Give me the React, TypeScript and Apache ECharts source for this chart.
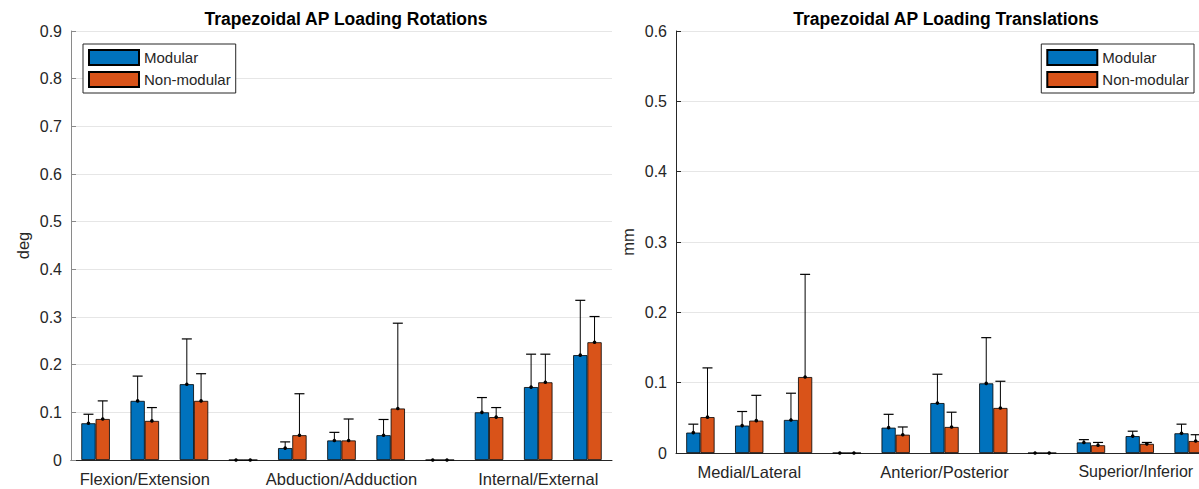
import React, { useEffect, useRef } from "react";
import * as echarts from "echarts";

const rotCategories = ["", "Flexion/Extension", "", "", "", "Abduction/Adduction", "", "", "", "Internal/External", ""];
const transCategories = ["", "Medial/Lateral", "", "", "", "Anterior/Posterior", "", "", "", "Superior/Inferior", ""];

const seriesNames = ["Modular", "Non-modular"];

const rotModular = [0.077, 0.124, 0.159, 0, 0.025, 0.041, 0.052, 0, 0.100, 0.153, 0.220];
const rotModularErr = [0.019, 0.052, 0.095, 0, 0.013, 0.017, 0.033, 0, 0.031, 0.069, 0.115];
const rotNonModular = [0.086, 0.082, 0.124, 0, 0.052, 0.041, 0.108, 0, 0.090, 0.163, 0.247];
const rotNonModularErr = [0.038, 0.028, 0.057, 0, 0.087, 0.045, 0.179, 0, 0.020, 0.059, 0.054];

const transModular = [0.029, 0.039, 0.047, 0, 0.036, 0.071, 0.099, 0, 0.015, 0.024, 0.028];
const transModularErr = [0.012, 0.020, 0.038, 0, 0.019, 0.041, 0.065, 0, 0.004, 0.007, 0.013];
const transNonModular = [0.051, 0.046, 0.108, 0, 0.026, 0.037, 0.064, 0, 0.011, 0.013, 0.017];
const transNonModularErr = [0.070, 0.036, 0.146, 0, 0.011, 0.021, 0.038, 0, 0.004, 0.002, 0.009];

const BLUE = "#0072BD";
const ORANGE = "#D95319";
const TXT = "#262626";
const FONT = "'Liberation Sans', Arial, Helvetica, sans-serif";
const BAR_FRAC = 0.29;

function errSeries(name: string, means: number[], errs: number[], side: number, gi: number) {
  return {
    type: "custom",
    name,
    xAxisIndex: gi,
    yAxisIndex: gi,
    z: 5,
    clip: false,
    data: means.map((m, i) => [i, m, errs[i]]),
    encode: { x: 0, y: [1, 2] },
    renderItem: (params: any, api: any) => {
      const idx = api.value(0);
      const mean = api.value(1);
      const err = api.value(2);
      const base = api.coord([idx, mean]);
      const top = api.coord([idx, mean + err]);
      const bandW = api.size([1, 0])[0];
      const x = base[0] + (side * bandW * BAR_FRAC) / 2;
      const children: any[] = [];
      if (err > 0) {
        children.push({
          type: "line",
          shape: { x1: x, y1: base[1], x2: x, y2: top[1] },
          style: { stroke: "#000", lineWidth: 1 },
        });
        children.push({
          type: "line",
          shape: { x1: x - 5, y1: top[1], x2: x + 5, y2: top[1] },
          style: { stroke: "#000", lineWidth: 1.2 },
        });
      }
      children.push({
        type: "circle",
        shape: { cx: x, cy: base[1], r: 1.8 },
        style: { fill: "#000" },
      });
      return { type: "group", children };
    },
  };
}

function barSeries(name: string, data: number[], color: string, gi: number) {
  return {
    type: "bar",
    name,
    xAxisIndex: gi,
    yAxisIndex: gi,
    data,
    barWidth: BAR_FRAC * 100 + "%",
    barGap: "0%",
    itemStyle: { color, borderColor: "#000", borderWidth: 0.8 },
  };
}

function yAxis(gi: number, max: number, name: string, lineColor: string) {
  return {
    type: "value",
    gridIndex: gi,
    min: 0,
    max,
    interval: 0.1,
    name,
    nameLocation: "middle",
    nameGap: 40,
    nameTextStyle: { color: TXT, fontSize: 16.5, fontFamily: FONT },
    axisLine: { show: true, lineStyle: { color: lineColor, width: 1 } },
    axisTick: { show: true, inside: true, length: 5, lineStyle: { color: lineColor } },
    axisLabel: {
      color: TXT,
      fontSize: 16,
      fontFamily: FONT,
      margin: 9,
      formatter: (v: number) => (v === 0 ? "0" : v.toFixed(1)),
    },
    splitLine: { show: true, lineStyle: { color: "#e6e6e6", width: 1 } },
  };
}

function xAxis(gi: number, cats: any[]) {
  return {
    type: "category",
    gridIndex: gi,
    data: cats,
    boundaryGap: true,
    axisLine: { show: true, lineStyle: { color: "#262626", width: 1 } },
    axisTick: { show: false },
    axisLabel: { color: TXT, fontSize: 16.5, fontFamily: FONT, margin: 10, interval: 0 },
    splitLine: { show: false },
  };
}

function legend(pos: any) {
  return {
    ...pos,
    top: 44,
    orient: "vertical",
    data: seriesNames,
    itemWidth: 50,
    itemHeight: 15,
    itemGap: 5,
    padding: [5, 5, 5, 5],
    borderColor: "#262626",
    borderWidth: 1,
    borderRadius: 0,
    backgroundColor: "#fff",
    selectedMode: false,
    icon: "rect",
    textStyle: { color: TXT, fontSize: 15, fontFamily: FONT },
  };
}

export default function App() {
  const ref = useRef<HTMLDivElement>(null);
  useEffect(() => {
    if (!ref.current) return;
    const chart = echarts.init(ref.current, null, { renderer: "svg" });
    const transAxisData = transCategories.map((c, i) =>
      i === transCategories.length - 2
        ? { value: c, textStyle: { fontSize: 16, padding: [0, 8, 0, 0] } }
        : c
    );
    chart.setOption({
      animation: false,
      backgroundColor: "#fff",
      title: [
        {
          text: "Trapezoidal AP Loading Rotations",
          left: 341,
          top: 5,
          textAlign: "center",
          textStyle: { color: "#000", fontSize: 17.5, fontWeight: "bold", fontFamily: FONT },
        },
        {
          text: "Trapezoidal AP Loading Translations",
          left: 941,
          top: 5,
          textAlign: "center",
          textStyle: { color: "#000", fontSize: 17.5, fontWeight: "bold", fontFamily: FONT },
        },
      ],
      legend: [legend({ left: 83 }), legend({ right: 5 })],
      grid: [
        { left: 71, top: 31, width: 541, height: 429, containLabel: false, outerBoundsMode: "none" },
        { left: 676, top: 31, width: 537, height: 422, containLabel: false, outerBoundsMode: "none" },
      ],
      xAxis: [xAxis(0, rotCategories), xAxis(1, transAxisData)],
      yAxis: [yAxis(0, 0.9, "deg", "#8a8a8a"), yAxis(1, 0.6, "mm", "#262626")],
      series: [
        barSeries(seriesNames[0], rotModular, BLUE, 0),
        barSeries(seriesNames[1], rotNonModular, ORANGE, 0),
        barSeries(seriesNames[0], transModular, BLUE, 1),
        barSeries(seriesNames[1], transNonModular, ORANGE, 1),
        errSeries("errRotM", rotModular, rotModularErr, -1, 0),
        errSeries("errRotN", rotNonModular, rotNonModularErr, 1, 0),
        errSeries("errTransM", transModular, transModularErr, -1, 1),
        errSeries("errTransN", transNonModular, transNonModularErr, 1, 1),
      ],
    });
    return () => chart.dispose();
  }, []);
  return (
    <div
      ref={ref}
      style={{ position: "absolute", left: 0, top: 0, width: 1199, height: 489 }}
    />
  );
}
